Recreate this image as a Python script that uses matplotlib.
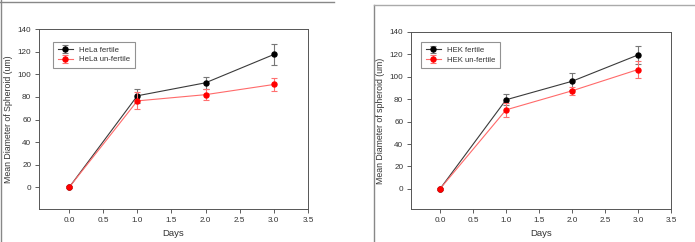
import numpy as np
import matplotlib
matplotlib.use('Agg')
import matplotlib.pyplot as plt
from matplotlib.lines import Line2D

plt.rcParams['font.family'] = ['Liberation Sans', 'DejaVu Sans']

# data
days = [0, 1, 2, 3]

hela_fertile = [0, 81, 92.5, 117.5]
hela_fertile_err = [0, 6, 5.5, 9]
hela_unfertile = [0, 76.5, 82, 91]
hela_unfertile_err = [0, 7.5, 5, 6]

hek_fertile = [0, 79.5, 96, 119.5]
hek_fertile_err = [0, 5, 7.5, 8]
hek_unfertile = [0, 70.5, 87.5, 106.5]
hek_unfertile_err = [0, 6, 3.5, 8]

xticks = [0.0, 0.5, 1.0, 1.5, 2.0, 2.5, 3.0, 3.5]
yticks = [0, 20, 40, 60, 80, 100, 120, 140]

W, H = 695, 242
fig = plt.figure(figsize=(W / 100, H / 100), dpi=100)


def box(l, r, t, b):
    return [l / W, (H - b) / H, (r - l) / W, (b - t) / H]


def panel(rect, ylo, s1, e1, s2, e2, names, ylabel, leg_xy):
    ax = fig.add_axes(rect)
    ax.errorbar(days, s1, yerr=e1, color='#3a3a3a', lw=0.8, marker='o', ms=3.6,
                mfc='black', mec='black', ecolor='#777777', elinewidth=0.8,
                capsize=2, capthick=0.8, label=names[0], zorder=3)
    ax.errorbar(days, s2, yerr=e2, color='#ff6a6a', lw=0.8, marker='o', ms=3.6,
                mfc='red', mec='red', ecolor='#ff7070', elinewidth=0.8,
                capsize=2, capthick=0.8, label=names[1], zorder=4)
    ax.set_xlim(-0.44, 3.5)
    ax.set_ylim(ylo, 140)
    ax.set_xticks(xticks)
    ax.set_xticklabels(['%.1f' % v for v in xticks])
    ax.set_yticks(yticks)
    ax.tick_params(axis='both', labelsize=5.9, length=3, width=0.6, pad=2.5,
                   colors='#444444', labelcolor='#333333')
    for s in ax.spines.values():
        s.set_color('#555555')
        s.set_linewidth(0.7)
    ax.set_xlabel('Days', fontsize=6.8, color='#333333', labelpad=3.5)
    ax.set_ylabel(ylabel, fontsize=6.3, color='#333333', labelpad=3)
    leg = ax.legend(loc='upper left', bbox_to_anchor=leg_xy, fontsize=5.6,
                    frameon=True, fancybox=False, edgecolor='#777777',
                    borderpad=0.6, handlelength=2.0, labelspacing=0.25,
                    handletextpad=0.8, borderaxespad=0)
    leg.get_frame().set_linewidth(0.8)
    for t in leg.get_texts():
        t.set_color('#333333')
    return ax


panel(box(39, 308, 29, 209), -19, hela_fertile, hela_fertile_err,
      hela_unfertile, hela_unfertile_err, ['HeLa fertile', 'HeLa un-fertile'],
      'Mean Diameter of Spheroid (um)', (0.052, 0.928))

panel(box(411, 671, 32, 209), -18, hek_fertile, hek_fertile_err,
      hek_unfertile, hek_unfertile_err, ['HEK fertile', 'HEK un-fertile'],
      'Mean Diameter of spheroid (um)', (0.038, 0.943))

# page border lines around the two pictures
def pline(xs, ys, c):
    fig.add_artist(Line2D([x / W for x in xs], [1 - y / H for y in ys],
                          transform=fig.transFigure, color=c, lw=1.0))

pline([0.5, 0.5], [0, 242], '#888888')
pline([0, 334], [1.5, 1.5], '#888888')
pline([374, 374], [5, 242], '#888888')
pline([374, 695], [5, 5], '#aaaaaa')

fig.savefig('out.png', dpi=100)
